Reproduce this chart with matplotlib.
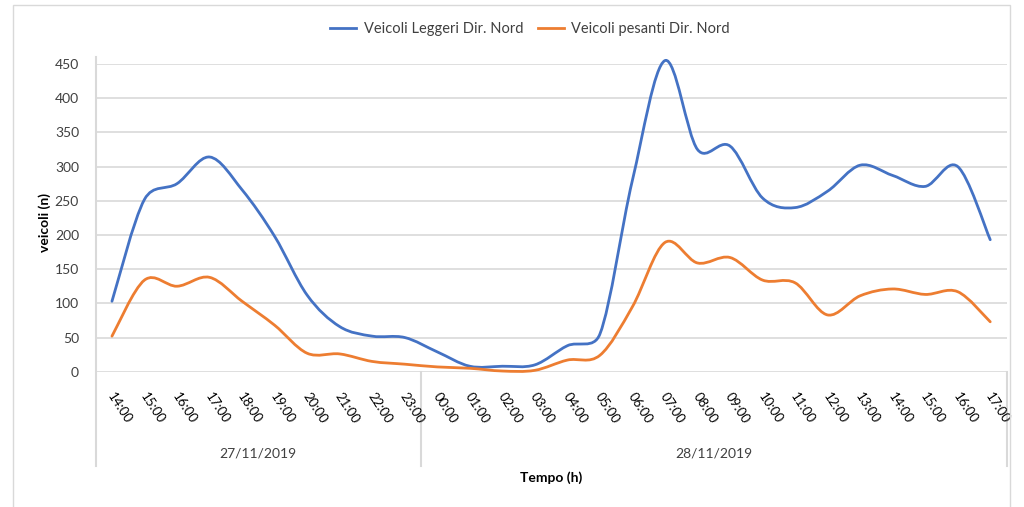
import numpy as np
import matplotlib
matplotlib.use("Agg")
import matplotlib.pyplot as plt
from matplotlib.path import Path
from matplotlib.patches import PathPatch, Rectangle
from matplotlib.lines import Line2D

plt.rcParams['font.family'] = ['Lato', 'DejaVu Sans']

# data
ore = ["14:00", "15:00", "16:00", "17:00", "18:00", "19:00", "20:00", "21:00", "22:00", "23:00",
       "00:00", "01:00", "02:00", "03:00", "04:00", "05:00", "06:00", "07:00", "08:00", "09:00",
       "10:00", "11:00", "12:00", "13:00", "14:00", "15:00", "16:00", "17:00"]
giorni = ["27/11/2019", "28/11/2019"]
ore_per_giorno = [10, 18]
leggeri = [103, 252, 275, 314, 266, 198, 112, 66, 52, 50,
           29, 8, 8, 10, 38, 55, 280, 455, 325, 330,
           254, 240, 264, 302, 287, 271, 300, 193]
pesanti = [52, 134, 125, 138, 103, 68, 27, 26, 15, 11,
           7, 5, 1, 2, 17, 24, 95, 189, 159, 167,
           134, 130, 83, 111, 121, 113, 117, 73]

blu = "#4472C4"
arancio = "#ED7D31"
grigio = "#D9D9D9"
testo = "#404040"

W, H = 1024, 507
left, right = 95.7, 1006.5
top, bottom = 64, 371.7
sx = (right - left) / len(ore)      # pixel per categoria
sy = (bottom - top) / 450.0         # pixel per veicolo


def curva_smussata(xs, ys):
    # bezier come la linea smussata di Excel, distanze in pixel
    p = np.column_stack([np.asarray(xs) * sx, np.asarray(ys) * sy]).astype(float)
    n = len(p)
    verts = [p[0]]
    codes = [Path.MOVETO]
    for i in range(n - 1):
        p0 = p[i - 1] if i > 0 else p[i]
        p1, p2 = p[i], p[i + 1]
        p3 = p[i + 2] if i + 2 < n else p[i + 1]
        d12 = np.hypot(*(p2 - p1))
        d02 = np.hypot(*(p2 - p0))
        d13 = np.hypot(*(p3 - p1))
        f1 = 1 / 6
        f2 = 1 / 6
        if d02 / 6 > d12 / 2 and d02 > 0:
            f1 = d12 / 2 / d02
        if d13 / 6 > d12 / 2 and d13 > 0:
            f2 = d12 / 2 / d13
        c1 = p1 + (p2 - p0) * f1
        c2 = p2 - (p3 - p1) * f2
        verts += [c1, c2, p2]
        codes += [Path.CURVE4] * 3
    verts = np.array(verts)
    verts[:, 0] /= sx
    verts[:, 1] /= sy
    return Path(verts, codes)


fig = plt.figure(figsize=(10.24, 5.07), dpi=100)

# cornice esterna
fig.patches.append(Rectangle((13 / W, -0.01), (1010 - 13) / W, (507 - 5) / H + 0.01,
                             transform=fig.transFigure, fill=False, ec=grigio, lw=1))

ax = fig.add_axes([left / W, 1 - bottom / H, (right - left) / W, (bottom - top) / H])

x = np.arange(len(ore))
ax.set_xlim(-0.5, len(ore) - 0.5)
ax.set_ylim(0, 450)
ax.set_yticks(np.arange(0, 451, 50))
ax.yaxis.grid(True, color=grigio, lw=1.2)
ax.set_axisbelow(True)
for s in ax.spines.values():
    s.set_visible(False)
ax.tick_params(axis='y', length=0, labelsize=10, labelcolor=testo, pad=12)
ax.tick_params(axis='x', length=0, labelbottom=False)

ax.add_patch(PathPatch(curva_smussata(x, leggeri), fill=False, ec=blu, lw=2,
                       capstyle='round', clip_on=False))
ax.add_patch(PathPatch(curva_smussata(x, pesanti), fill=False, ec=arancio, lw=2,
                       capstyle='round', clip_on=False))

# asse verticale e divisori delle categorie
trans = ax.get_xaxis_transform()
ax.add_line(Line2D([-0.5, -0.5], [-0.305, 1.023], transform=trans, color=grigio, lw=1.5, clip_on=False))
pos = -0.5
for n in ore_per_giorno:
    pos += n
    ax.add_line(Line2D([pos, pos], [-0.305, 0], transform=trans, color=grigio, lw=1.5, clip_on=False))

for xi, lab in zip(x, ore):
    ax.text(xi - 0.05, -0.071, lab, transform=trans, rotation=-57, rotation_mode='anchor',
            ha='left', va='center', fontsize=9.5, color='black')

start = -0.5
for g, n in zip(giorni, ore_per_giorno):
    ax.text(start + n / 2, -0.265, g, transform=trans, ha='center', va='center',
            fontsize=10, color=testo)
    start += n

ax.text(0.5, -0.345, "Tempo (h)", transform=ax.transAxes, ha='center', va='center',
        fontsize=10, fontweight='bold', color='black')
fig.text(45 / W, 1 - 222 / H, "veicoli (n)", rotation=90, ha='center', va='center',
         fontsize=10, fontweight='bold', color='black')

handles = [Line2D([], [], color=blu, lw=2), Line2D([], [], color=arancio, lw=2)]
fig.legend(handles, ["Veicoli Leggeri Dir. Nord", "Veicoli pesanti Dir. Nord"],
           loc='center', bbox_to_anchor=(530 / W, 1 - 29 / H), ncol=2, frameon=False,
           fontsize=10.5, handlelength=1.8, handletextpad=0.5, columnspacing=1.0,
           labelcolor=testo)

fig.savefig("out.png", dpi=100)
